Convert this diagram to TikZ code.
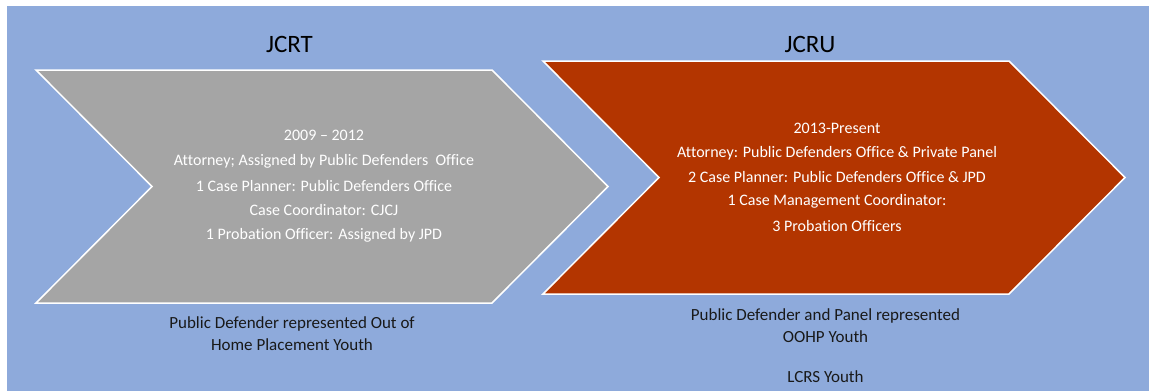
\documentclass[tikz,border=0pt]{standalone}
\usepackage{fontspec}
\setmainfont{Carlito}[Ligatures=NoCommon]
\definecolor{bgblue}{HTML}{8EAADB}
\definecolor{chevgray}{HTML}{A5A5A5}
\definecolor{chevred}{HTML}{B33500}
\tikzset{
  chev/.style={draw=white, line width=1.5pt, line join=miter},
  title/.style={font=\fontsize{25}{28}\selectfont, text=black, anchor=center, inner sep=0pt},
  inner/.style={font=\fontsize{16}{18}\selectfont, text=white, align=center, inner sep=0pt},
  caption/.style={font=\fontsize{17}{22}\selectfont, text=black!90, align=center, inner sep=0pt},
}
\begin{document}
\begin{tikzpicture}[x=1pt,y=-1pt]
\useasboundingbox (0,0) rectangle (1149,391);
\fill[white] (0,0) rectangle (1149,391);
\fill[bgblue] (7,6) rectangle (1149,391);
% gray chevron
\path[chev, fill=chevgray] (36,70) -- (492,70) -- (608,186.5) -- (492,303) -- (36,303) -- (152,186.5) -- cycle;
% red chevron
\path[chev, fill=chevred] (543,61) -- (1009,61) -- (1125,177.5) -- (1009,294) -- (543,294) -- (659,177.5) -- cycle;
\node[title] (t1) at (289.5,44) {JCRT};
\node[title] (t2) at (810,44) {JCRU};
\node[inner] (g1) at (324,135) {2009 – 2012};
\node[inner] (g2) at (324,161) {Attorney; Assigned by Public Defenders\ \ Office};
\node[inner] (g3) at (324,186) {1 Case Planner: Public Defenders Office};
\node[inner] (g4) at (324,210.5) {Case Coordinator: CJCJ};
\node[inner] (g5) at (324,235) {1 Probation Officer: Assigned by JPD};
\node[inner] (r1) at (837,128) {2013-Present};
\node[inner] (r2) at (837,153) {Attorney: Public Defenders Office \& Private Panel};
\node[inner] (r3) at (837,177) {2 Case Planner: Public Defenders Office \& JPD};
\node[inner] (r4) at (837,201.5) {1 Case Management Coordinator:};
\node[inner] (r5) at (837,226) {3 Probation Officers};
\node[caption] (c1) at (292,333.5) {Public Defender represented Out of\\Home Placement Youth};
\node[caption] (c2) at (825.5,325.5) {Public Defender and Panel represented\\OOHP Youth};
\node[caption] (c3) at (825.5,377) {LCRS Youth};
\end{tikzpicture}
\end{document}
